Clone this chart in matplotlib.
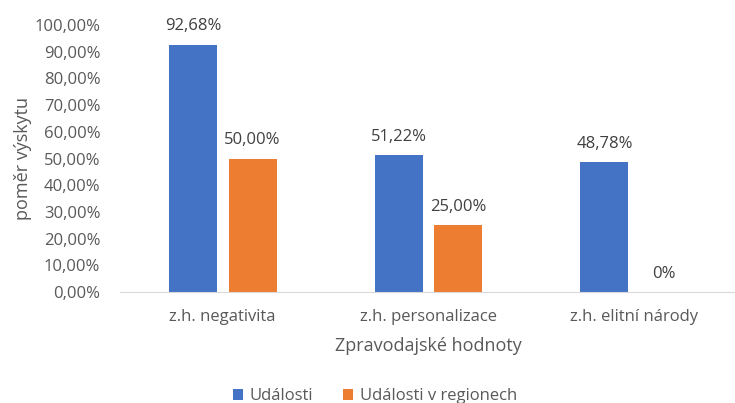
import numpy as np
import matplotlib.pyplot as plt

# Data
kategorie = ["z.h. negativita", "z.h. personalizace", "z.h. elitní národy"]
udalosti = [92.68, 51.22, 48.78]
udalosti_regiony = [50.00, 25.00, 0.0]
popisky_udalosti = ["92,68%", "51,22%", "48,78%"]
popisky_regiony = ["50,00%", "25,00%", "0%"]
y_ticks = [0, 10, 20, 30, 40, 50, 60, 70, 80, 90, 100]

plt.rcParams['font.family'] = ['Open Sans', 'DejaVu Sans']
seda = "#595959"

fig = plt.figure(figsize=(7.35, 4.03), dpi=100)
ax = fig.add_axes([0.163, 0.275, 0.84, 0.663])

x = np.arange(len(kategorie))
sirka = 0.233
posun = 0.145
b1 = ax.bar(x - posun, udalosti, sirka, color="#4472C4", label="Události")
b2 = ax.bar(x + posun, udalosti_regiony, sirka, color="#ED7D31", label="Události v regionech")

for rect, txt in zip(b1, popisky_udalosti):
    ax.text(rect.get_x() + rect.get_width() / 2, rect.get_height() + 3.8, txt,
            ha="center", va="bottom", fontsize=12, color="#404040")
for rect, txt in zip(b2, popisky_regiony):
    ax.text(rect.get_x() + rect.get_width() / 2, rect.get_height() + 3.8, txt,
            ha="center", va="bottom", fontsize=12, color="#404040")

ax.set_xlim(-0.5, 2.5)
ax.set_ylim(0, 100)
ax.set_yticks(y_ticks)
ax.set_yticklabels([f"{v:.2f}".replace(".", ",") + "%" for v in y_ticks])
ax.set_xticks(x)
ax.set_xticklabels(kategorie)
ax.tick_params(axis="both", length=0, labelsize=12, colors=seda)
ax.tick_params(axis="x", pad=12)
ax.tick_params(axis="y", pad=14)

for s in ["top", "right", "left"]:
    ax.spines[s].set_visible(False)
ax.spines["bottom"].set_color("#D9D9D9")

ax.set_ylabel("poměr výskytu", fontsize=13, color=seda, labelpad=2)
ax.set_xlabel("Zpravodajské hodnoty", fontsize=13, color=seda, labelpad=9)

fig.legend(loc="lower center", bbox_to_anchor=(0.51, -0.04), ncol=2, frameon=False,
           fontsize=12, labelcolor=seda, handlelength=0.6, handleheight=0.6,
           handletextpad=0.4, columnspacing=1.8)

fig.savefig("out.png", dpi=100)
